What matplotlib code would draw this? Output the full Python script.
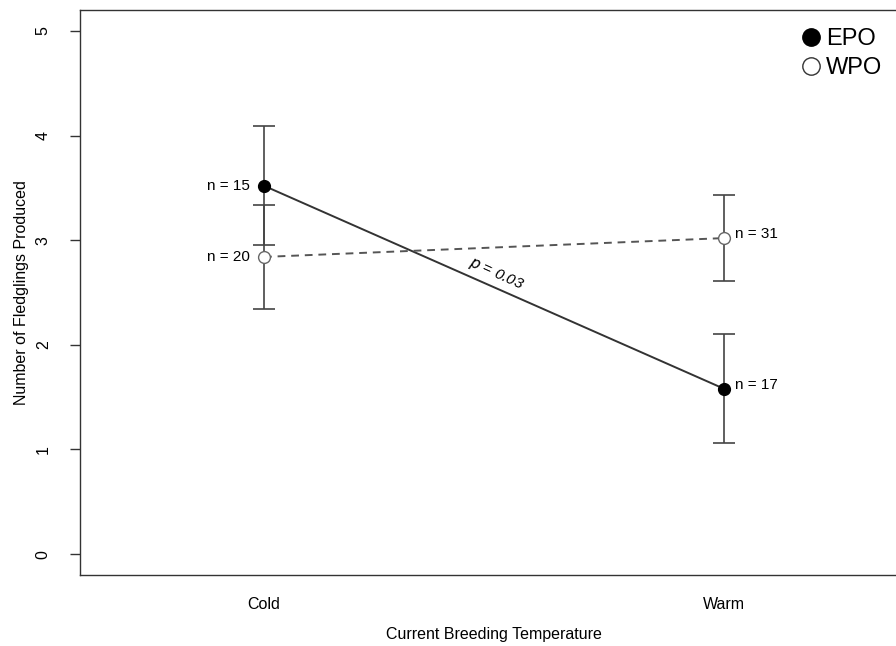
import matplotlib
matplotlib.use("Agg")
import matplotlib.pyplot as plt
from matplotlib.lines import Line2D

plt.rcParams["font.family"] = ["Liberation Sans", "DejaVu Sans"]

# data
temps = ["Cold", "Warm"]
x_pos = [1, 2]
epo_mean = [3.52, 1.58]
epo_err = [0.57, 0.52]
epo_n = [15, 17]
wpo_mean = [2.84, 3.02]
wpo_err = [0.50, 0.41]
wpo_n = [20, 31]
yticks = [0, 1, 2, 3, 4, 5]

fig = plt.figure(figsize=(8.96, 6.46), dpi=100)
ax = fig.add_axes([80 / 896, 71 / 646, 828 / 896, 565 / 646])

ax.errorbar(x_pos, epo_mean, yerr=epo_err, fmt="none", ecolor="#444444",
            elinewidth=1.2, capsize=8, capthick=1.2, zorder=2)
ax.errorbar(x_pos, wpo_mean, yerr=wpo_err, fmt="none", ecolor="#444444",
            elinewidth=1.2, capsize=8, capthick=1.2, zorder=2)

ax.plot(x_pos, epo_mean, color="#333333", lw=1.4, ls="-", zorder=3)
ax.plot(x_pos, wpo_mean, color="#555555", lw=1.4, ls=(0, (4, 3)), zorder=3)
ax.plot(x_pos, epo_mean, "o", ms=8.5, mfc="black", mec="black", zorder=4)
ax.plot(x_pos, wpo_mean, "o", ms=8.5, mfc="white", mec="#666666", mew=1, zorder=4)

# sample sizes
ax.annotate(f"n = {epo_n[0]}", (x_pos[0], epo_mean[0]), xytext=(-10, 0),
            textcoords="offset points", ha="right", va="center", fontsize=11)
ax.annotate(f"n = {wpo_n[0]}", (x_pos[0], wpo_mean[0]), xytext=(-10, 0),
            textcoords="offset points", ha="right", va="center", fontsize=11)
ax.annotate(f"n = {wpo_n[1]}", (x_pos[1], wpo_mean[1]), xytext=(8, 3),
            textcoords="offset points", ha="left", va="center", fontsize=11)
ax.annotate(f"n = {epo_n[1]}", (x_pos[1], epo_mean[1]), xytext=(8, 3),
            textcoords="offset points", ha="left", va="center", fontsize=11)

ax.text(1.505, 2.68, "$\\it{p}$ = 0.03", rotation=-24, ha="center", va="center",
        fontsize=11, style="italic", rotation_mode="anchor")

ax.set_xlim(0.6, 2.4)
ax.set_ylim(-0.2, 5.2)
ax.set_xticks(x_pos)
ax.set_xticklabels(temps, fontsize=11.5)
ax.set_yticks(yticks)
ax.set_yticklabels([str(v) for v in yticks], rotation=90, va="center", fontsize=11.5)
ax.tick_params(axis="y", length=7, width=1, color="#333333", pad=14)
ax.tick_params(axis="x", length=0, pad=16)
for s in ax.spines.values():
    s.set_color("#333333")
    s.set_linewidth(1)

ax.set_xlabel("Current Breeding Temperature", fontsize=11.5, labelpad=11)
ax.set_ylabel("Number of Fledglings Produced", fontsize=11.5, labelpad=5)

handles = [
    Line2D([], [], marker="o", ls="none", ms=12.5, mfc="black", mec="black"),
    Line2D([], [], marker="o", ls="none", ms=12.5, mfc="white", mec="#333333", mew=1),
]
fig.legend(handles, ["EPO", "WPO"], loc="upper left",
           bbox_to_anchor=(804 / 896, 1 - 28 / 646), frameon=False,
           fontsize=17, handlelength=0.6, handletextpad=0.34, labelspacing=0.3,
           borderpad=0, borderaxespad=0)

fig.savefig("out.png", dpi=100)
